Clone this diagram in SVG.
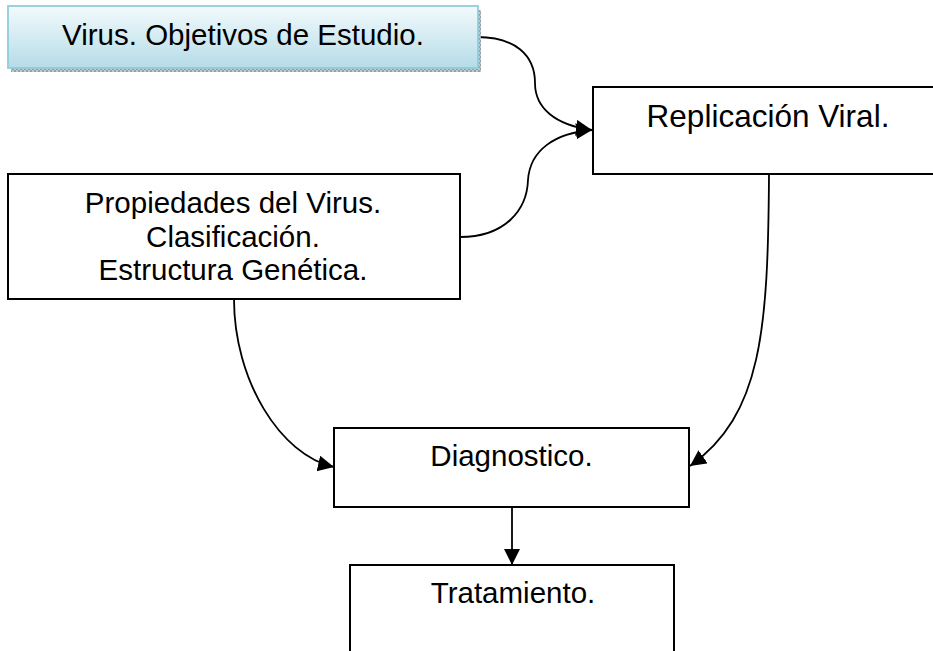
<svg xmlns="http://www.w3.org/2000/svg" width="933" height="651" viewBox="0 0 933 651">
<style>
.box{fill:#fff;stroke:#000;stroke-width:2}
.t{font-family:"Liberation Sans",Arial,sans-serif;font-size:29.5px;fill:#000;text-anchor:middle}
.conn{fill:none;stroke:#000;stroke-width:1.8}
</style>
<defs>
<linearGradient id="g1" x1="0" y1="0" x2="0" y2="1">
<stop offset="0" stop-color="#f3fafc"/>
<stop offset="1" stop-color="#b5dce7"/>
</linearGradient>
<pattern id="sh" width="4" height="4" patternUnits="userSpaceOnUse">
<rect width="4" height="4" fill="#c2c9cd"/>
<rect width="2" height="2" fill="#98a1a6"/>
<rect x="2" y="2" width="2" height="2" fill="#98a1a6"/>
</pattern>
<marker id="ah" markerUnits="userSpaceOnUse" markerWidth="18" markerHeight="18" refX="16" refY="8" orient="auto">
<path d="M0,0 L16,8 L0,16 z" fill="#000"/>
</marker>
</defs>
<g id="connectors">
<path class="conn" d="M477,37 C515,37 535,55 535,83 C535,108 555,125 592,130" marker-end="url(#ah)"/>
<path class="conn" d="M460,237 C505,237 527,210 528,180 C530,150 555,133 592,130" marker-end="url(#ah)"/>
<path class="conn" d="M769,174 C768,330 762,415 690,466" marker-end="url(#ah)"/>
<path class="conn" d="M234,299 C234,380 280,455 334,467" marker-end="url(#ah)"/>
<path class="conn" d="M512,507 L512,565" marker-end="url(#ah)"/>
</g>
<g id="virus">
<rect x="11" y="10" width="470" height="62" fill="url(#sh)"/>
<rect x="8" y="6" width="470" height="62" fill="url(#g1)" stroke="#92cddc" stroke-width="1.8"/>
<text class="t" x="243" y="45">Virus. Objetivos de Estudio.</text>
</g>
<g id="replicacion">
<rect class="box" x="593" y="87" width="350" height="87"/>
<text class="t" x="768" y="126.5" style="font-size:31.5px">Replicación Viral.</text>
</g>
<g id="propiedades">
<rect class="box" x="8" y="174" width="452" height="125"/>
<text class="t" x="233" y="213">Propiedades del Virus.</text>
<text class="t" x="233" y="246.5">Clasificación.</text>
<text class="t" x="233" y="280">Estructura Genética.</text>
</g>
<g id="diagnostico">
<rect class="box" x="334" y="428" width="355" height="79"/>
<text class="t" x="511.5" y="466">Diagnostico.</text>
</g>
<g id="tratamiento">
<rect class="box" x="350" y="565" width="324" height="100"/>
<text class="t" x="513" y="602.5">Tratamiento.</text>
</g>
</svg>
